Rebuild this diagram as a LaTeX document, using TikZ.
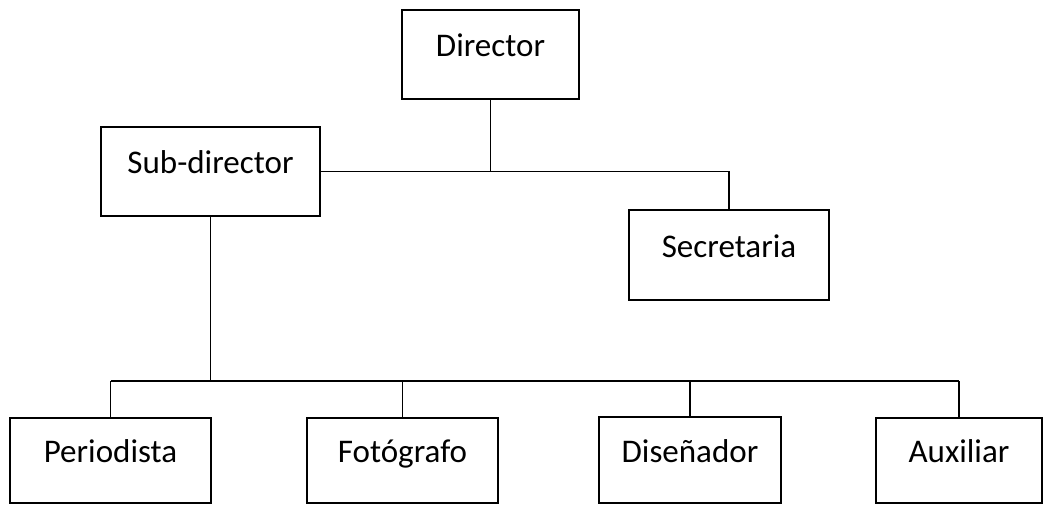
\documentclass[tikz,border=0pt]{standalone}
\usepackage{fontspec}
\setmainfont{Carlito}
\usepackage{tikz}
\tikzset{
	puesto/.style={draw, line width=1.5pt, rectangle, inner sep=0pt,
		text height=0.6cm, text depth=0.5cm,
		font=\fontsize{23.5}{28}\selectfont},
	enlace/.style={line width=1.2pt}
}

\begin{document}
\begin{tikzpicture}[x=0.025cm, y=-0.025cm]
			%%%%% START %%%%%
			\useasboundingbox (0, 0) rectangle (1044, 506);
			
			\node[puesto, minimum width=4.425cm, minimum height=2.225cm] (dir) at (490.5, 54.5) {Director};
			\node[puesto, minimum width=5.475cm, minimum height=2.225cm] (sub) at (210.5, 171.5) {Sub-director};
			\node[puesto, minimum width=5cm, minimum height=2.25cm] (sec) at (729, 255) {Secretaria};
			
			\node[puesto, minimum width=5.025cm, minimum height=2.125cm] (per) at (110.5, 460.5) {Periodista};
			\node[puesto, minimum width=4.775cm, minimum height=2.125cm] (fot) at (402.5, 460.5) {Fotógrafo};
			\node[puesto, minimum width=4.55cm, minimum height=2.15cm] (dis) at (690, 460) {Diseñador};
			\node[puesto, minimum width=4.15cm, minimum height=2.125cm] (aux) at (959, 460.5) {Auxiliar};
			
			\coordinate (barra) at (0, 381);
			
			\draw[enlace] (dir.south) -- (dir.south |- sub.east);
			\draw[enlace] (sub.east) -- (sec.north |- sub.east) -- (sec.north);
			
			\draw[enlace] (sub.south) -- (sub.south |- barra);
			\draw[enlace] (per.north |- barra) -- (aux.north |- barra);
			\foreach \p in {per, fot, dis, aux}
				\draw[enlace] (\p.north |- barra) -- (\p.north);
			
			%%%%% END %%%%%
		\end{tikzpicture}
\end{document}
